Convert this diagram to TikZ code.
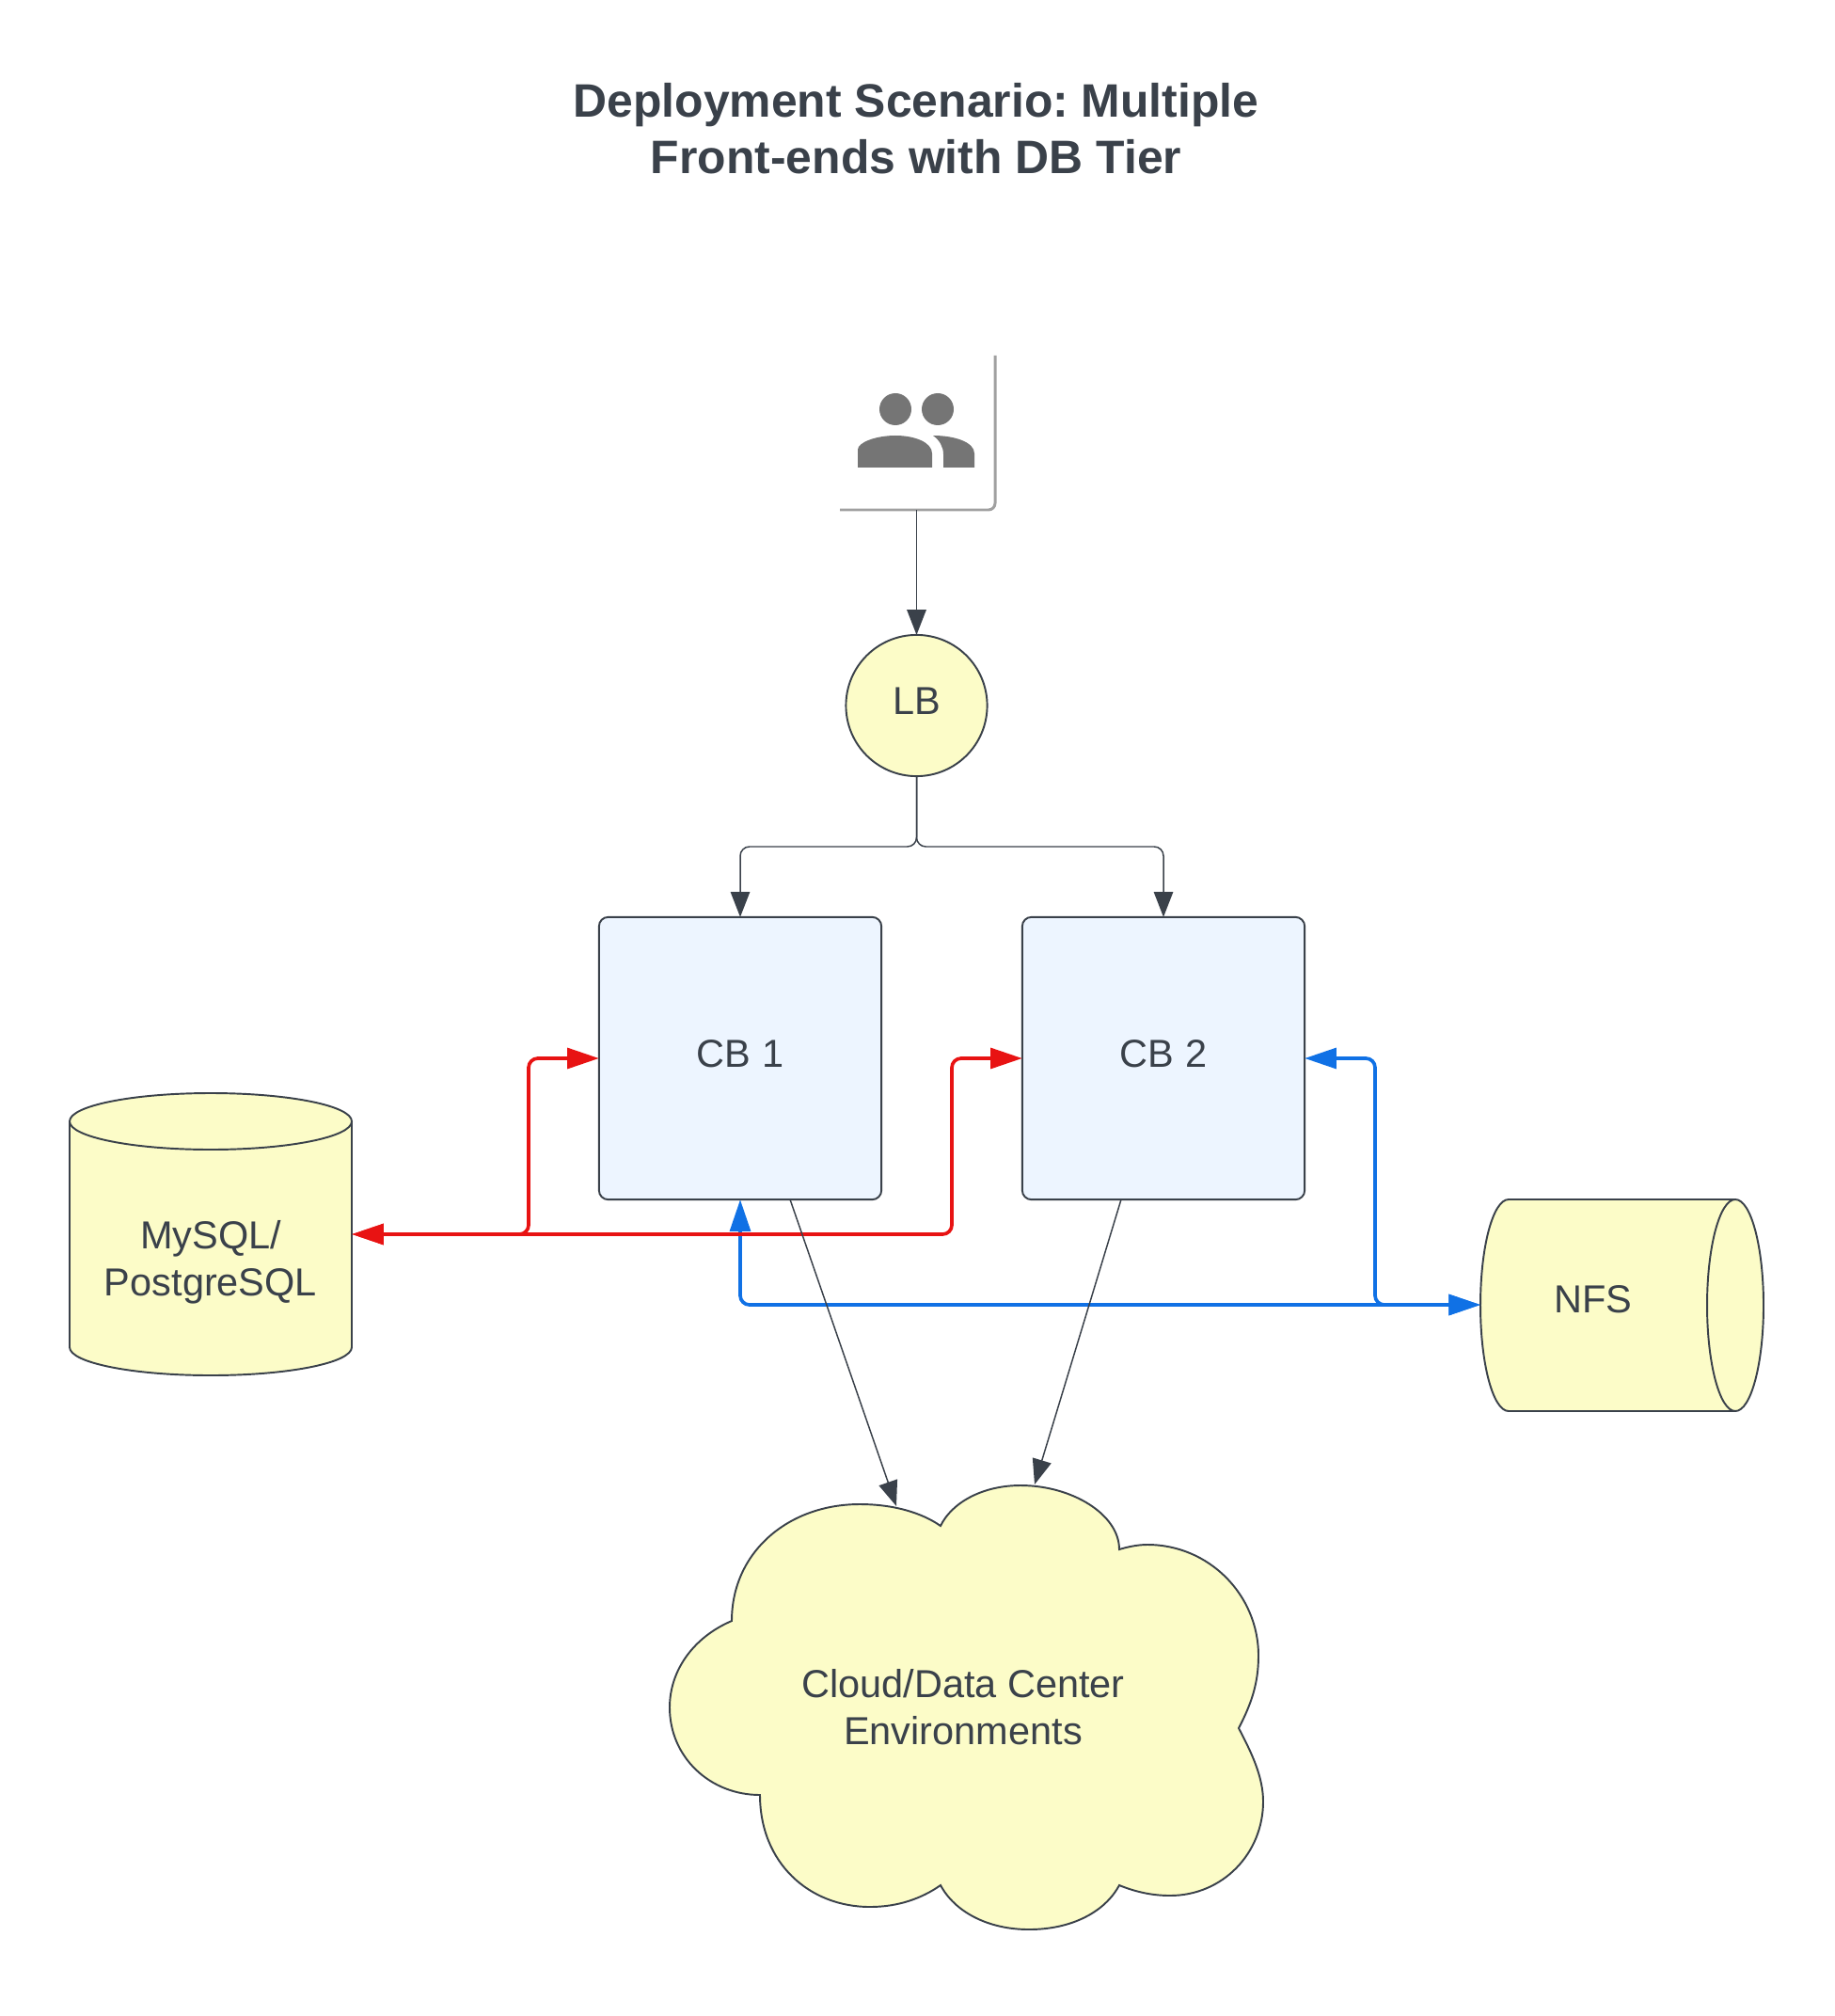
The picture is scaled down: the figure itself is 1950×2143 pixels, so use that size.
\documentclass[tikz,border=0pt]{standalone}
\usepackage{fontspec}
\setmainfont{Liberation Sans}
\usepackage{xcolor}
\usetikzlibrary{arrows.meta}
\definecolor{inkgrey}{RGB}{58,65,74}
\definecolor{paleyellow}{RGB}{252,252,200}
\definecolor{paleblue}{RGB}{237,245,255}
\definecolor{linkred}{RGB}{232,19,19}
\definecolor{linkblue}{RGB}{16,113,229}
\definecolor{icongrey}{RGB}{117,117,117}
\definecolor{shadowgrey}{RGB}{160,160,160}
\tikzset{
  plainlink/.style={draw=inkgrey,line width=0.42pt,rounded corners=2.8pt,-{Triangle[length=7.6pt,width=5.8pt]}},
  redlink/.style={draw=linkred,line width=1.05pt,rounded corners=2.8pt,{Triangle[length=9.6pt,width=6.2pt]}-{Triangle[length=9.6pt,width=6.2pt]}},
  bluelink/.style={draw=linkblue,line width=1.05pt,rounded corners=2.8pt,{Triangle[length=9.6pt,width=6.2pt]}-{Triangle[length=9.6pt,width=6.2pt]}},
  shapeline/.style={draw=inkgrey,line width=0.55pt,outer sep=0pt},
  cbbox/.style={shapeline,fill=paleblue,rectangle,rounded corners=2.8pt,minimum width=85.4pt,minimum height=85.4pt,text depth=2.7pt},
  hollow/.style={inner sep=0pt,outer sep=0pt},
}
\begin{document}
\frenchspacing
\begin{tikzpicture}[x=0.01cm,y=-0.01cm,>=Latex,every node/.style={font=\fontsize{11.8}{14.2}\selectfont,text=inkgrey,align=center}]
\useasboundingbox (0,0) rectangle (1950,2143);
\node[font=\fontsize{14.18}{17.1}\selectfont\bfseries] (title) at (974,137) {Deployment Scenario: Multiple\\Front-ends with DB Tier};
\node[hollow,minimum width=47.5pt,minimum height=46.9pt] (users) at (974.5,460) {};
\draw[shadowgrey,line width=0.85pt,rounded corners=2pt] (1058,378) -- (1058,542) -- (893,542);
\fill[icongrey] (952,435) circle (17) (997,435) circle (17);
\fill[icongrey] (912,497) -- (912,478) .. controls (912,470) and (932,463) .. (952,463) .. controls (972,463) and (991,470) .. (991,482) -- (991,497) -- cycle;
\fill[icongrey] (1003,497) -- (1003,483) .. controls (1003,475) and (999,468) .. (992,463) .. controls (1015,463) and (1036,470) .. (1036,482) -- (1036,497) -- cycle;
\node[shapeline,fill=paleyellow,circle,minimum size=42.7pt,inner sep=0pt,text depth=3pt] (lb) at (974.5,750) {LB};
\node[cbbox] (cb1) at (787,1125) {CB 1};
\node[cbbox] (cb2) at (1237,1125) {CB 2};
\draw[draw=inkgrey,line width=0.55pt,fill=paleyellow] (74,1192) -- (74,1432) .. controls (74,1448.6) and (141,1462) .. (224,1462) .. controls (307,1462) and (374,1448.6) .. (374,1432) -- (374,1192) -- cycle;
\draw[draw=inkgrey,line width=0.55pt,fill=paleyellow] (224,1192) ellipse [x radius=150,y radius=30];
\node[hollow,minimum width=85.4pt,minimum height=85.4pt] (db) at (224,1312) {};
\node (dbtext) at (224,1342) {MySQL/\\PostgreSQL};
\draw[draw=inkgrey,line width=0.55pt,fill=paleyellow] (1845,1275) -- (1604,1275) .. controls (1587.4,1275) and (1574,1325.3) .. (1574,1387.5) .. controls (1574,1449.7) and (1587.4,1500) .. (1604,1500) -- (1845,1500) -- cycle;
\draw[draw=inkgrey,line width=0.55pt,fill=paleyellow] (1845,1387.5) ellipse [x radius=30,y radius=112.5];
\node[hollow,minimum width=85.6pt,minimum height=64pt] (nfs) at (1724.5,1387) {};
\node (nfstext) at (1694,1381) {NFS};
\draw[draw=inkgrey,line width=0.55pt,fill=paleyellow] (778,1723)
  .. controls (778,1650) and (838,1599) .. (914,1599)
  .. controls (950,1599) and (980,1608) .. (1000,1622)
  .. controls (1012,1597) and (1045,1579) .. (1085,1579)
  .. controls (1140,1579) and (1190,1610) .. (1190,1647)
  .. controls (1200,1644) and (1210,1642) .. (1220,1642)
  .. controls (1285,1642) and (1338,1695) .. (1338,1760)
  .. controls (1338,1790) and (1330,1812) .. (1317,1837)
  .. controls (1330,1862) and (1343,1888) .. (1343,1915)
  .. controls (1343,1970) and (1300,2015) .. (1244,2015)
  .. controls (1225,2015) and (1207,2011) .. (1190,2004)
  .. controls (1175,2032) and (1140,2051) .. (1094,2051)
  .. controls (1050,2051) and (1015,2032) .. (1000,2004)
  .. controls (980,2018) and (955,2027) .. (925,2027)
  .. controls (860,2027) and (808,1980) .. (808,1908)
  .. controls (755,1908) and (712,1868) .. (712,1815)
  .. controls (712,1775) and (738,1740) .. (778,1723) -- cycle;
\node (cloud) at (1024,1815) {Cloud/Data Center\\Environments};
\coordinate (splitleft) at (787,900);
\coordinate (splitright) at (1237,900);
\coordinate (redone) at (562,1125);
\coordinate (redtwo) at (1012,1125);
\coordinate (blueone) at (787,1387);
\coordinate (bluetwo) at (1462,1387);
\coordinate (cbonefoot) at (840,1275);
\coordinate (cbtwofoot) at (1192,1275);
\coordinate (cloudleft) at (953,1601);
\coordinate (cloudright) at (1100,1578);
\draw[plainlink] (users.south) -- (lb.north);
\draw[plainlink] (lb.south) |- (splitleft) -- (cb1.north);
\draw[plainlink] (lb.south) |- (splitright) -- (cb2.north);
\draw[bluelink] (nfs.west) -- (blueone) -- (cb1.south);
\draw[bluelink] (nfs.west) -- (bluetwo) |- (cb2.east);
\draw[redlink] (db.east) -| (redone) -- (cb1.west);
\draw[redlink] (db.east) -| (redtwo) -- (cb2.west);
\draw[plainlink] (cbonefoot) -- (cloudleft);
\draw[plainlink] (cbtwofoot) -- (cloudright);
\end{tikzpicture}
\end{document}
